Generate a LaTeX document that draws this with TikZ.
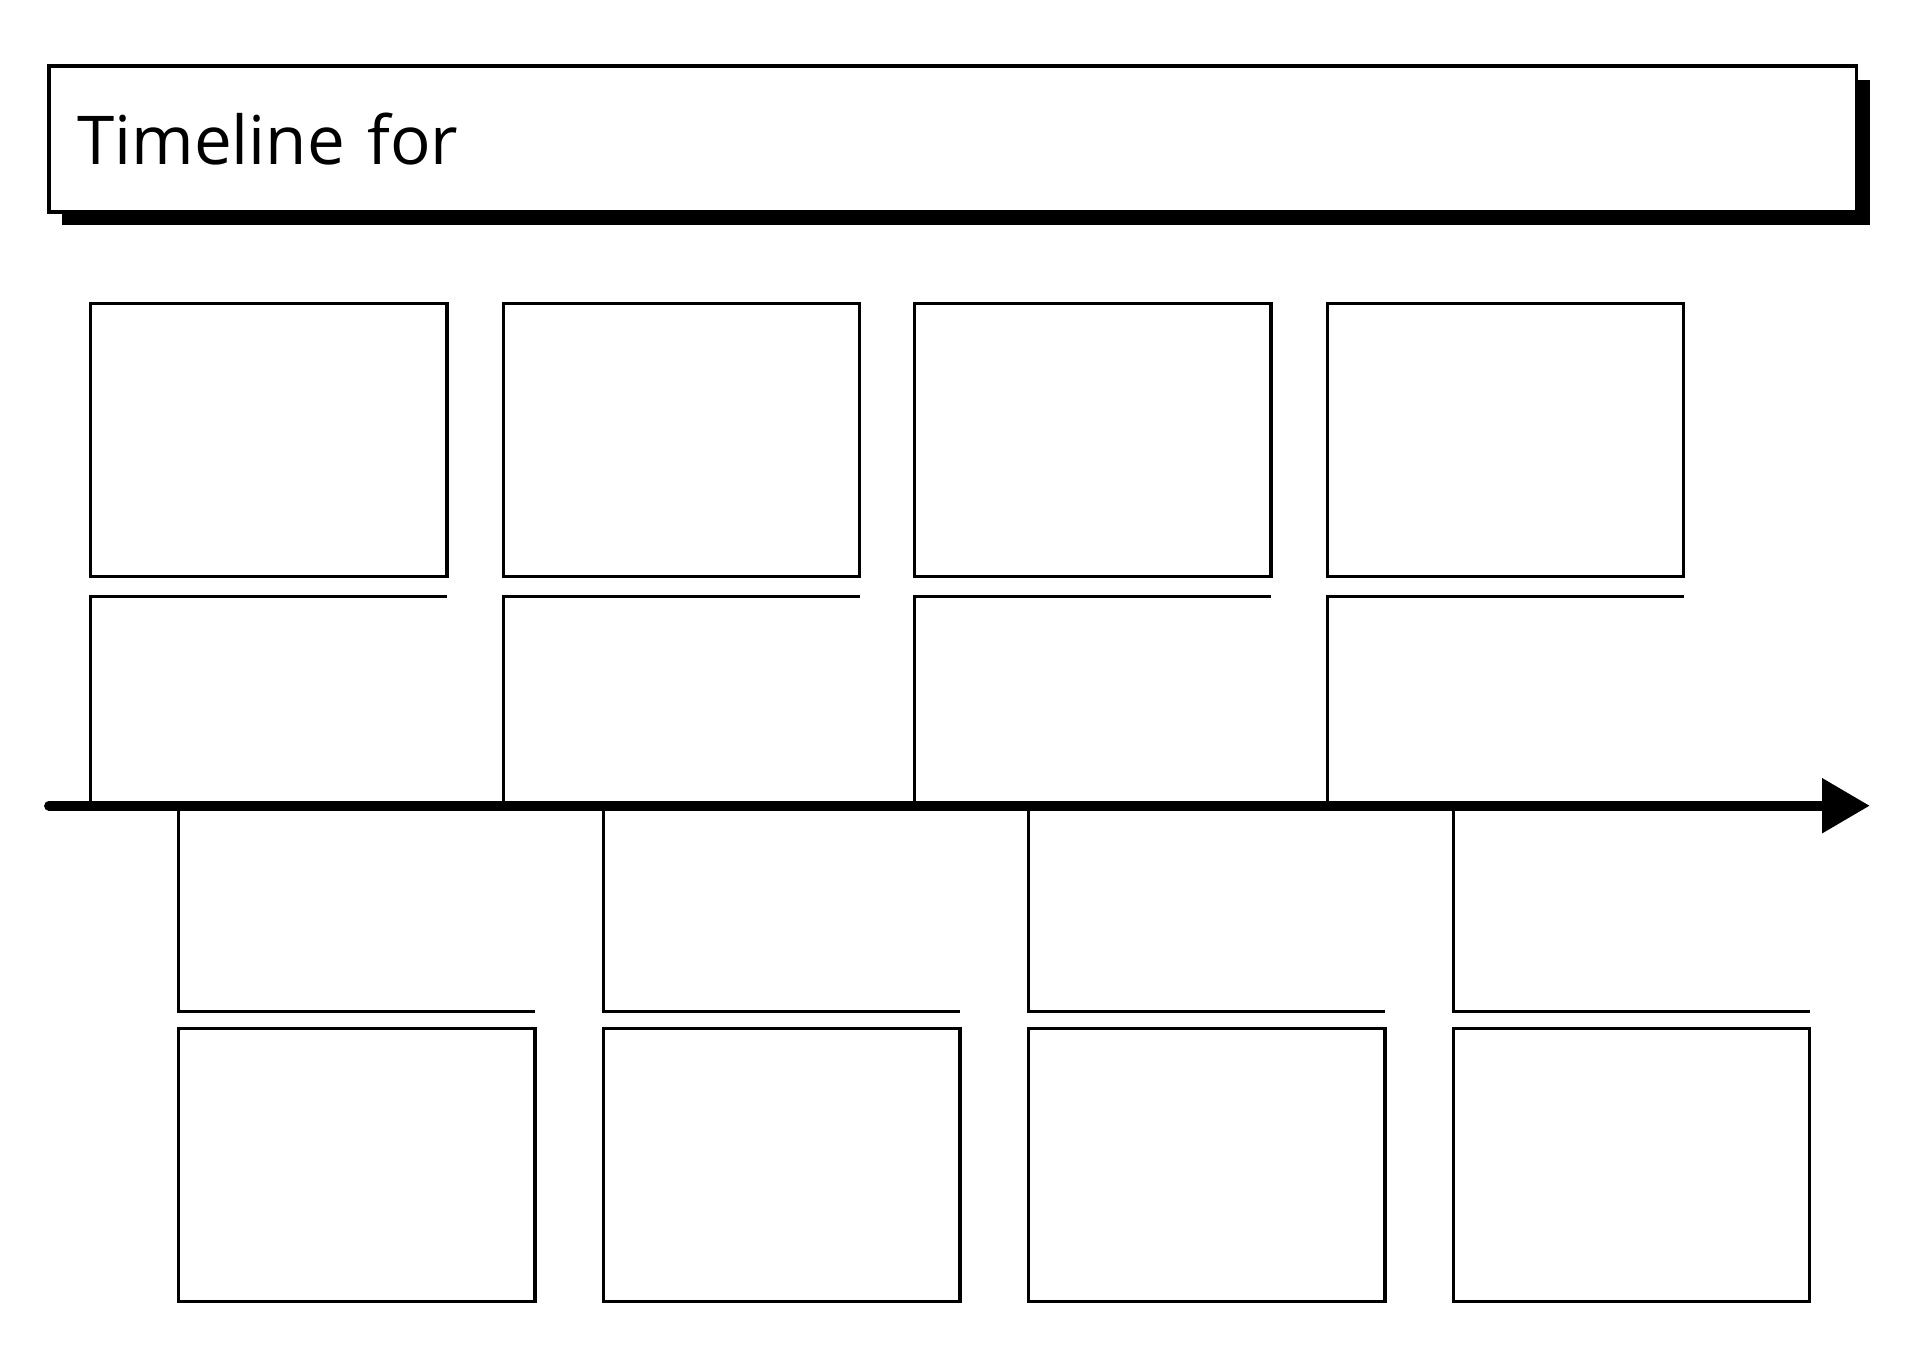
\documentclass[tikz,border=0pt]{standalone}
\usepackage{fontspec}
\setmainfont{Open Sans}
\usetikzlibrary{arrows.meta,shadows}

\tikzset{
  cell/.style={draw, line width=2.7pt, minimum width=291pt, minimum height=223pt, inner sep=0pt, outer sep=0pt, anchor=north west},
  bracket/.style={line width=2.7pt},
}

\begin{document}
\begin{tikzpicture}[x=1pt,y=-1pt]
\useasboundingbox (0,0) rectangle (1568,1109);
% Title box
\node[draw, line width=3pt, fill=white, anchor=north west, minimum width=1476pt, minimum height=119pt, text width=1430pt, inner xsep=23pt, inner ysep=0pt, outer sep=0pt, align=left, drop shadow={shadow xshift=11pt, shadow yshift=-11pt, fill=black, opacity=1}, font=\fontsize{55}{66}\selectfont] (title) at (40,54) {Timeline for};
% Upper boxes
\foreach \x [count=\i] in {74,411,747,1084}
  \node[cell] (up\i) at (\x,248) {};
% Lower boxes
\foreach \x [count=\i] in {146,493,840,1187}
  \node[cell] (dn\i) at (\x,840) {};
% Time axis ends
\coordinate (tl) at (40,658);
\coordinate (tr) at (1527,658);
% Brackets
\foreach \i in {1,...,4} {
  \draw[bracket] ([yshift=-16pt]up\i.south east) -- ([yshift=-16pt]up\i.south west) -- (up\i.south west |- tl);
  \draw[bracket] (dn\i.north west |- tl) -- ([yshift=14pt]dn\i.north west) -- ([yshift=14pt]dn\i.north east);
}
% Time axis
\draw[line width=8pt, line cap=round, -{Triangle[length=39pt,width=43pt]}] (tl) -- (tr);
\end{tikzpicture}
\end{document}
